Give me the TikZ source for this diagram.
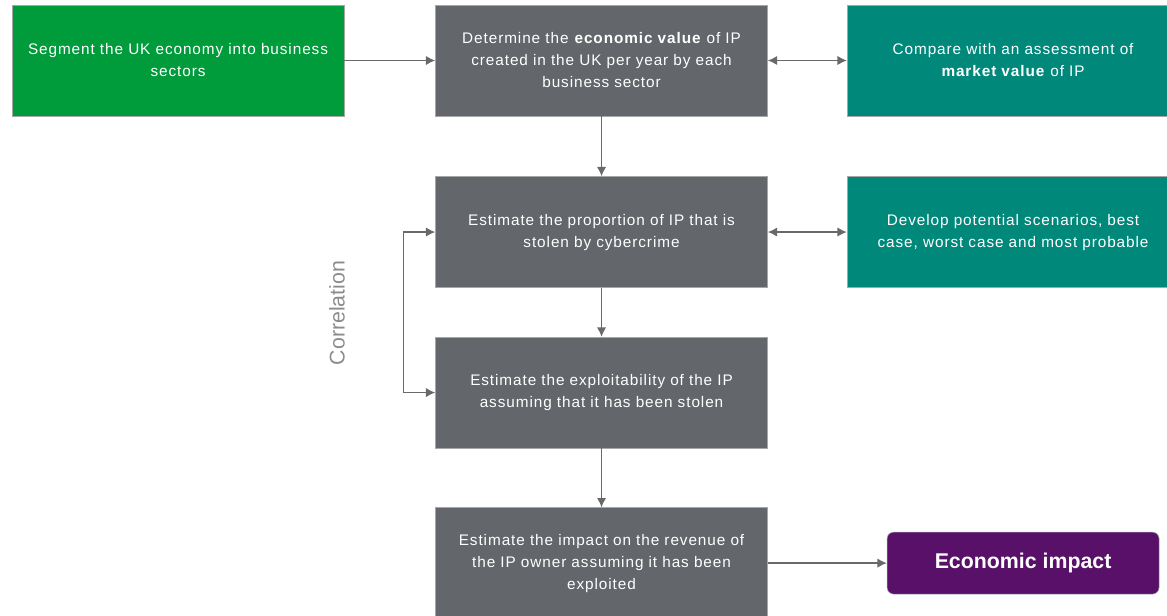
\documentclass[tikz,border=0pt]{standalone}
\usepackage{fontspec}
\setmainfont{Liberation Sans}
\newfontfamily\trackfont[LetterSpace=6]{Liberation Sans}
\usetikzlibrary{arrows.meta,positioning}
\definecolor{stepgreen}{RGB}{0,155,58}
\definecolor{stepgray}{RGB}{99,102,106}
\definecolor{stepteal}{RGB}{0,137,123}
\definecolor{steppurple}{RGB}{88,16,104}
\definecolor{linkgray}{RGB}{105,105,108}
\definecolor{labelgray}{RGB}{140,140,140}

\begin{document}
\begin{tikzpicture}[x=0.75pt,y=-0.75pt,
    every node/.style={font=\trackfont\fontsize{11.5}{16.5}\selectfont},
    stepbox/.style={rectangle, draw=gray!70, line width=0.4pt, text=white, align=center,
          text width=240pt, minimum width=249pt, minimum height=83.25pt, inner sep=0pt},
    link/.style={-{Latex[length=7pt,width=7pt]}, line width=1.1pt, linkgray},
    twolink/.style={{Latex[length=7pt,width=7pt]}-{Latex[length=7pt,width=7pt]}, line width=1.1pt, linkgray}]
    \useasboundingbox (0,0) rectangle (1167,615);
    \node[stepbox, fill=stepgreen] (seg) at (178,60.5)
      {Segment the UK economy into business\\ sectors};
    \node[stepbox, fill=stepgray, right=68.25pt of seg] (econ)
      {Determine the \textbf{economic value} of IP\\ created in the UK per year by each\\ business sector};
    \node[stepbox, fill=stepteal, right=59.25pt of econ] (mkt)
      {Compare with an assessment of\\ \textbf{market value} of IP};
    \node[stepbox, fill=stepgray, below=45pt of econ] (prop)
      {Estimate the proportion of IP that is\\ stolen by cybercrime};
    \node[stepbox, fill=stepteal, right=59.25pt of prop] (scen)
      {Develop potential scenarios, best\\ case, worst case and most probable};
    \node[stepbox, fill=stepgray, below=36.75pt of prop] (expl)
      {Estimate the exploitability of the IP\\ assuming that it has been stolen};
    \node[stepbox, fill=stepgray, below=44.25pt of expl] (imp)
      {Estimate the impact on the revenue of\\ the IP owner assuming it has been\\ exploited};
    \node[rectangle, rounded corners=5pt, draw=gray!70, fill=steppurple, text=white,
          minimum width=204pt, minimum height=46.5pt, right=89.25pt of imp,
          font=\fontsize{16}{19}\selectfont\bfseries] (res) {Economic impact};
    \node[rotate=90, text=labelgray, font=\fontsize{16}{19}\selectfont] (corr) at (337,313) {Correlation};
    % connectors
    \draw[link] (seg) -- (econ);
    \draw[twolink] (econ) -- (mkt);
    \draw[link] (econ) -- (prop);
    \draw[twolink] (prop) -- (scen);
    \draw[link] (prop) -- (expl);
    \draw[link] (expl) -- (imp);
    \draw[link] (imp) -- (res);
    \draw[twolink] (prop.west) -- ++(-24pt,0) |- (expl.west);
  \end{tikzpicture}
\end{document}
